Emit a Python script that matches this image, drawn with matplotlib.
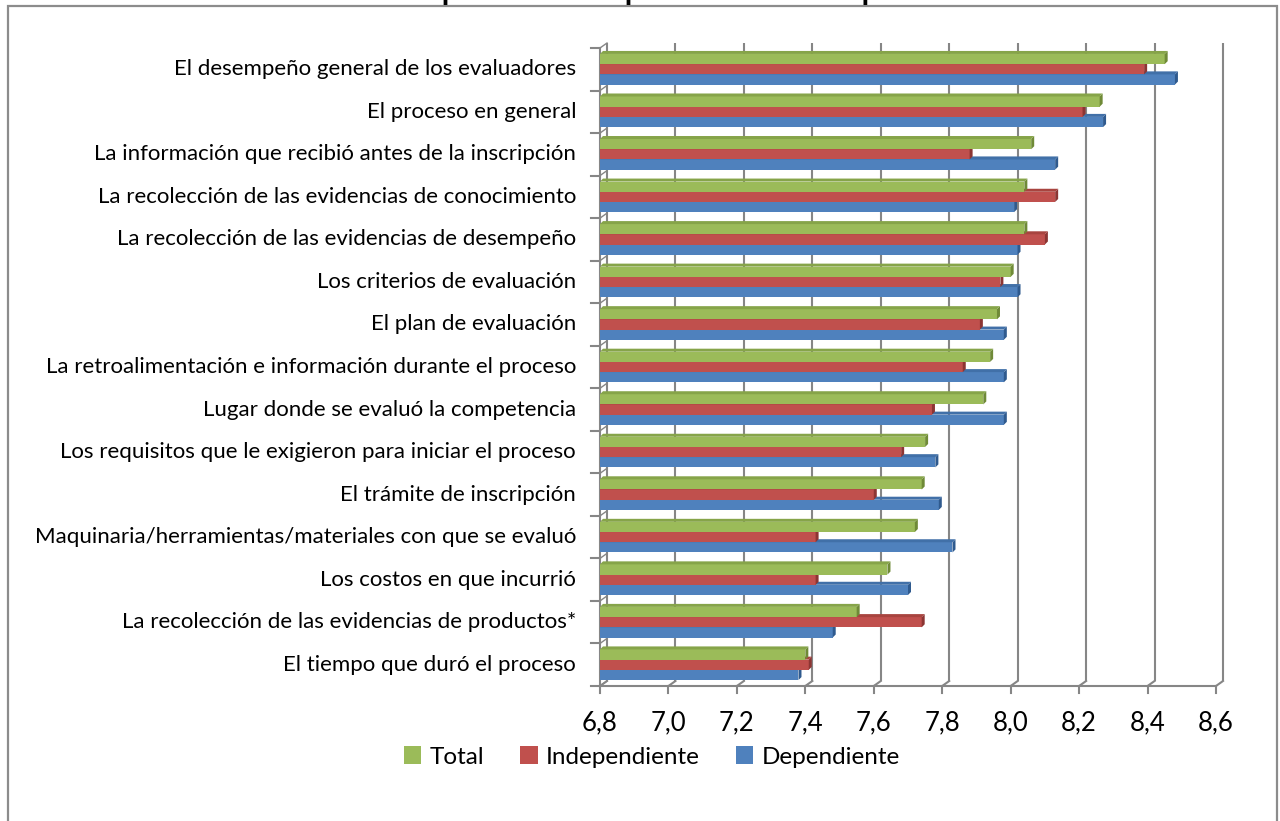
import matplotlib
matplotlib.use('Agg')
import matplotlib.pyplot as plt
from matplotlib.patches import Polygon, Rectangle, Patch
import numpy as np

categories = [
    "El desempeño general de los evaluadores",
    "El proceso en general",
    "La información que recibió antes de la inscripción ",
    "La recolección de las evidencias de conocimiento",
    "La recolección de las evidencias de desempeño",
    "Los criterios de evaluación",
    "El plan de evaluación",
    "La retroalimentación e información durante el proceso",
    "Lugar donde se evaluó la competencia",
    "Los requisitos que le exigieron para iniciar el proceso",
    "El trámite de inscripción",
    "Maquinaria/herramientas/materiales con que se evaluó",
    "Los costos en que incurrió",
    "La recolección de las evidencias de productos*",
    "El tiempo que duró el proceso ",
]
total = [8.45, 8.26, 8.06, 8.04, 8.04, 8.00, 7.96, 7.94, 7.92, 7.75, 7.74, 7.72, 7.64, 7.55, 7.40]
independiente = [8.39, 8.21, 7.88, 8.13, 8.10, 7.97, 7.91, 7.86, 7.77, 7.68, 7.60, 7.43, 7.43, 7.74, 7.41]
dependiente = [8.48, 8.27, 8.13, 8.01, 8.02, 8.02, 7.98, 7.98, 7.98, 7.78, 7.79, 7.83, 7.70, 7.48, 7.38]
series_names = ["Total", "Independiente", "Dependiente"]
xticks = [6.8, 7.0, 7.2, 7.4, 7.6, 7.8, 8.0, 8.2, 8.4, 8.6]
xtick_labels = ["6,8", "7,0", "7,2", "7,4", "7,6", "7,8", "8,0", "8,2", "8,4", "8,6"]
title = "Calificación promedio del proceso sobre 10 puntos"

front_cols = ["#9BBB59", "#C0504D", "#4F81BD"]
top_cols = ["#86A449", "#A8443F", "#4170A8"]
side_cols = ["#6F8A37", "#8C3533", "#2F5A8E"]

plt.rcParams['font.family'] = ['Lato', 'DejaVu Sans']

W, H = 1280, 821
fig = plt.figure(figsize=(W / 100, H / 100), dpi=100)

# frame
fig.patches.append(Rectangle((8 / W, -0.02), (1277 - 8) / W, 1.02 - 6 / H,
                             transform=fig.transFigure, fill=False,
                             edgecolor="#8C8C8C", lw=1.6))
# title (cropped at top, as in the reference)
fig.text(617 / W, 1.0, title, ha="center", va="baseline",
         fontsize=21.5, fontweight="bold", color="black")

x0_px, x1_px = 600, 1216
ytop_px, ybot_px = 48, 686
ax = fig.add_axes([x0_px / W, 1 - ybot_px / H, (x1_px - x0_px) / W, (ybot_px - ytop_px) / H])
n = len(categories)
xmin, xmax = xticks[0], xticks[-1]
ax.set_xlim(xmin, xmax)
ax.set_ylim(n - 0.5, -0.5)
ax.axis("off")

# depth conversions (pixels -> data units)
ppx = (x1_px - x0_px) / (xmax - xmin)
ppy = (ybot_px - ytop_px) / n
wall_dx, wall_dy = 7 / ppx, 5 / ppy
bar_dx, bar_dy = 3 / ppx, 3 / ppy

grid_c = "#868686"
glw = 1.5
yt, yb = -0.5, n - 0.5
for v in xticks:
    ax.plot([v + wall_dx, v + wall_dx], [yt - wall_dy, yb - wall_dy], color=grid_c, lw=glw,
            clip_on=False, zorder=1, solid_capstyle="butt")
    ax.plot([v + wall_dx, v], [yb - wall_dy, yb], color=grid_c, lw=glw, clip_on=False, zorder=1)
    ax.plot([v, v], [yb, yb + 7 / ppy], color=grid_c, lw=glw, clip_on=False, zorder=1)
# floor front edge
ax.plot([xmin, xmax], [yb, yb], color=grid_c, lw=glw, clip_on=False, zorder=1)
# left front axis line with category ticks
ax.plot([xmin, xmin], [yt, yb], color=grid_c, lw=glw, clip_on=False, zorder=1)
for k in range(n + 1):
    yk = -0.5 + k
    ax.plot([xmin - 9 / ppx, xmin], [yk, yk], color=grid_c, lw=glw, clip_on=False, zorder=1)
    ax.plot([xmin, xmin + wall_dx], [yk, yk - wall_dy], color=grid_c, lw=1.0, clip_on=False, zorder=1)

# x tick labels
for v, lab in zip(xticks, xtick_labels):
    ax.annotate(lab, xy=(v, yb), xytext=(0, -37), textcoords="offset pixels",
                ha="center", va="center", fontsize=18.5, annotation_clip=False)

# category labels
for i, lab in enumerate(categories):
    ax.annotate(lab.rstrip(), xy=(xmin, i), xytext=(-24, 0), textcoords="offset pixels",
                ha="right", va="center", fontsize=16, annotation_clip=False)

# bars
bh = 0.24
offsets = [-bh, 0.0, bh]
ypos = np.arange(n)
series = [total, independiente, dependiente]
for s in [2, 1, 0]:
    vals = np.array(series[s])
    yy = ypos + offsets[s]
    bars = ax.barh(yy, vals - xmin, left=xmin, height=bh, color=front_cols[s],
                   edgecolor="none", zorder=3 + (2 - s))
    for b in bars:
        bx0, by0 = b.get_x(), b.get_y()
        bw, bhh = b.get_width(), b.get_height()
        bx1 = bx0 + bw
        ytop_b = by0
        ybot_b = by0 + bhh
        side = Polygon([(bx1, ytop_b), (bx1 + bar_dx, ytop_b - bar_dy),
                        (bx1 + bar_dx, ybot_b - bar_dy), (bx1, ybot_b)],
                       closed=True, facecolor=side_cols[s], edgecolor="none",
                       zorder=3 + (2 - s), clip_on=False)
        top = Polygon([(bx0, ytop_b), (bx0 + bar_dx, ytop_b - bar_dy),
                       (bx1 + bar_dx, ytop_b - bar_dy), (bx1, ytop_b)],
                      closed=True, facecolor=top_cols[s], edgecolor="none",
                      zorder=3 + (2 - s), clip_on=False)
        ax.add_patch(side)
        ax.add_patch(top)

handles = [Patch(facecolor=c, edgecolor="none") for c in front_cols]
fig.legend(handles, series_names, loc="center", bbox_to_anchor=(652 / W, 1 - 757 / H),
           ncol=3, frameon=False, fontsize=17.5, handlelength=0.7, handleheight=0.7,
           handletextpad=0.35, columnspacing=1.5)

fig.savefig("out.png", dpi=100)
